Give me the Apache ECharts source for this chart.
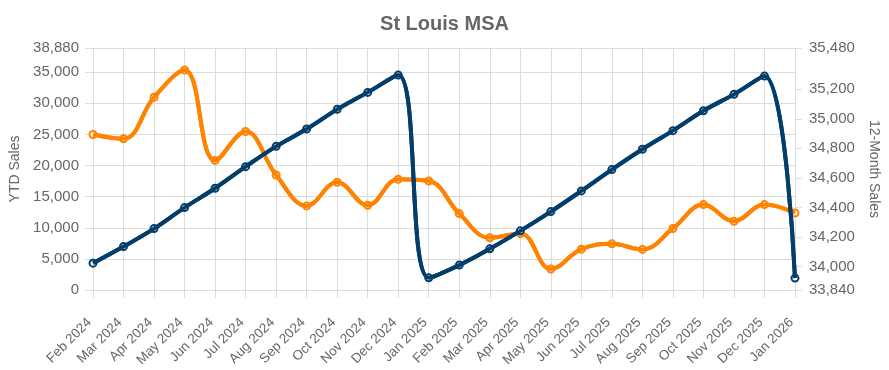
<!DOCTYPE html>
<html>
<head>
<meta charset="utf-8">
<script src="https://cdn.jsdelivr.net/npm/echarts@6/dist/echarts.min.js"></script>
<style>
html,body{margin:0;padding:0;background:#fff;}
#c{width:889px;height:370px;}
</style>
</head>
<body>
<div id="c"></div>
<script>
const categories = ['Feb 2024','Mar 2024','Apr 2024','May 2024','Jun 2024','Jul 2024','Aug 2024','Sep 2024','Oct 2024','Nov 2024','Dec 2024','Jan 2025','Feb 2025','Mar 2025','Apr 2025','May 2025','Jun 2025','Jul 2025','Aug 2025','Sep 2025','Oct 2025','Nov 2025','Dec 2025','Jan 2026'];
const ytdSales = [4310, 6980, 9870, 13240, 16350, 19820, 23080, 25860, 29020, 31750, 34530, 1950, 4000, 6610, 9500, 12600, 15920, 19340, 22610, 25600, 28800, 31430, 34370, 1910];
const twelveMonthSales = [34894, 34865, 35146, 35331, 34718, 34914, 34619, 34410, 34570, 34414, 34590, 34579, 34358, 34194, 34223, 33982, 34117, 34153, 34115, 34257, 34419, 34306, 34419, 34362];
const leftTicks = [0, 5000, 10000, 15000, 20000, 25000, 30000, 35000, 38880];
const rightTicks = [33840, 34000, 34200, 34400, 34600, 34800, 35000, 35200, 35480];

const FONT = 'Arial, "Liberation Sans", sans-serif';
const GRID = '#dcdcdc';
const TXT = '#666666';
const BLUE = '#033e6b';
const ORANGE = '#ff8200';
const fmt = v => v.toLocaleString('en-US');

const chart = echarts.init(document.getElementById('c'), null, {renderer: 'canvas'});

function lineSeries(name, data, color, yIdx, withSymbols, z) {
  return {
    name: name,
    type: 'line',
    yAxisIndex: yIdx,
    data: data,
    smooth: 0.4,
    z: z,
    symbol: withSymbols ? 'emptyCircle' : 'none',
    showSymbol: withSymbols,
    symbolSize: 7,
    lineStyle: {color: color, width: 4},
    itemStyle: {color: color, borderColor: color, borderWidth: 3},
    emphasis: {disabled: true},
    animation: false,
    silent: true
  };
}

chart.setOption({
  animation: false,
  title: {
    text: 'St Louis MSA',
    left: 'center',
    top: 9,
    textStyle: {fontFamily: FONT, fontSize: 20, fontWeight: 'bold', color: TXT}
  },
  grid: {left: 91, right: 92, top: 48, bottom: 80, containLabel: false},
  xAxis: {
    type: 'category',
    data: categories,
    boundaryGap: false,
    axisLine: {show: true, lineStyle: {color: GRID, width: 1}},
    axisTick: {show: true, length: 8, alignWithLabel: true, lineStyle: {color: GRID}},
    splitLine: {show: true, lineStyle: {color: GRID, width: 1}},
    axisLabel: {rotate: 45, fontSize: 13.5, fontFamily: FONT, color: TXT, margin: 17, verticalAlign: 'top', padding: [0, 12, 0, 0], interval: 0}
  },
  yAxis: [
    {
      type: 'value',
      position: 'left',
      min: 0,
      max: 38880,
      name: 'YTD Sales',
      nameLocation: 'middle',
      nameRotate: 90,
      nameGap: 71,
      nameTextStyle: {fontFamily: FONT, fontSize: 14, color: TXT},
      axisLine: {show: false},
      axisTick: {show: true, length: 8, lineStyle: {color: GRID}, customValues: leftTicks},
      splitLine: {show: true, lineStyle: {color: GRID, width: 1}},
      axisLabel: {fontSize: 15, fontFamily: FONT, color: TXT, margin: 14, formatter: fmt, customValues: leftTicks}
    },
    {
      type: 'value',
      position: 'right',
      min: 33840,
      max: 35480,
      name: '12-Month Sales',
      nameLocation: 'middle',
      nameRotate: -90,
      nameGap: 72,
      nameTextStyle: {fontFamily: FONT, fontSize: 14, color: TXT},
      axisLine: {show: true, lineStyle: {color: GRID, width: 1}},
      axisTick: {show: true, length: 7, lineStyle: {color: GRID}, customValues: rightTicks},
      splitLine: {show: false},
      axisLabel: {fontSize: 15, fontFamily: FONT, color: TXT, margin: 14, formatter: fmt, customValues: rightTicks}
    }
  ],
  series: [
    lineSeries('12-Month Sales', twelveMonthSales, ORANGE, 1, true, 2),
    lineSeries('12-Month Sales line', twelveMonthSales, ORANGE, 1, false, 3),
    lineSeries('YTD Sales', ytdSales, BLUE, 0, true, 4),
    lineSeries('YTD Sales line', ytdSales, BLUE, 0, false, 5)
  ]
});
</script>
</body>
</html>
